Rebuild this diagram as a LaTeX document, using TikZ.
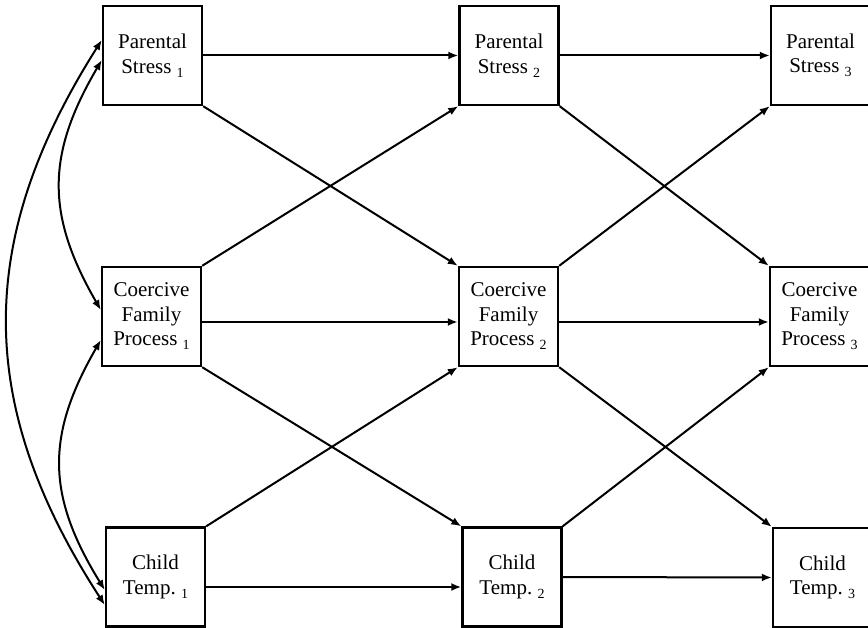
\documentclass[tikz,border=0pt]{standalone}
\usepackage{fontspec}
\setmainfont{Liberation Serif}
\usetikzlibrary{arrows.meta}
% small lowered wave index after a variable name
\newcommand{\wave}[1]{{\fontsize{14}{14}\selectfont\raisebox{-4pt}{#1}}}

\begin{document}
\begin{tikzpicture}[x=1pt,y=-1pt,
  var/.style={draw, line width=2.4pt, minimum width=99pt, minimum height=99pt,
    inner sep=0pt, align=center, font=\fontsize{21}{24.5}\selectfont},
  path/.style={line width=2pt, -{Latex[length=10pt,width=8pt]}},
  cov/.style={line width=2pt, {Latex[length=10pt,width=8pt]}-{Latex[length=10pt,width=8pt]}}]
\clip (0,0) rectangle (868,628);

% wave 1
\node[var] (PS1) at (152.5,55.5) {Parental\\Stress~\wave{1}};
\node[var] (CF1) at (151.5,316.5) {Coercive\\Family\\Process~\wave{1}};
\node[var] (CT1) at (155.5,577) {Child\\Temp.~\wave{1}};
% wave 2
\node[var] (PS2) at (509,55.5) {Parental\\Stress~\wave{2}};
\node[var] (CF2) at (508.5,316.5) {Coercive\\Family\\Process~\wave{2}};
\node[var] (CT2) at (512,577) {Child\\Temp.~\wave{2}};
% wave 3
\node[var] (PS3) at (820.5,55.5) {Parental\\Stress~\wave{3}};
\node[var] (CF3) at (819.5,316.5) {Coercive\\Family\\Process~\wave{3}};
\node[var] (CT3) at (822.5,577.5) {Child\\Temp.~\wave{3}};

% stability paths
\draw[path] (PS1.east) -- (PS2.west);
\draw[path] (PS2.east) -- (PS3.west);
\draw[path] ([yshift=-5.5pt]CF1.east) -- ([yshift=-5.5pt]CF2.west);
\draw[path] ([yshift=-5.5pt]CF2.east) -- ([yshift=-5.5pt]CF3.west);
\draw[path] ([yshift=-10pt]CT1.east) -- ([yshift=-10pt]CT2.west);
\draw[path] (CT2.east) -- (CT3.west);

% cross-lagged paths
\draw[path] (PS1.south east) -- (CF2.north west);
\draw[path] (CF1.north east) -- (PS2.south west);
\draw[path] (CF1.south east) -- (CT2.north west);
\draw[path] (CT1.north east) -- (CF2.south west);
\draw[path] (PS2.south east) -- (CF3.north west);
\draw[path] (CF2.north east) -- (PS3.south west);
\draw[path] (CF2.south east) -- (CT3.north west);
\draw[path] (CT2.north east) -- (CF3.south west);

% wave 1 covariances
\draw[cov] ([yshift=15.5pt]PS1.west) .. controls (-25,240) and (-25,405) .. ([yshift=-28pt]CT1.west);
\draw[cov] ([yshift=-4.5pt]PS1.west) .. controls (46,155) and (46,215) .. ([yshift=6.5pt]CF1.west);
\draw[cov] ([yshift=-23.5pt]CF1.west) .. controls (46,435) and (46,495) .. ([yshift=-13pt]CT1.west);
\end{tikzpicture}
\end{document}
